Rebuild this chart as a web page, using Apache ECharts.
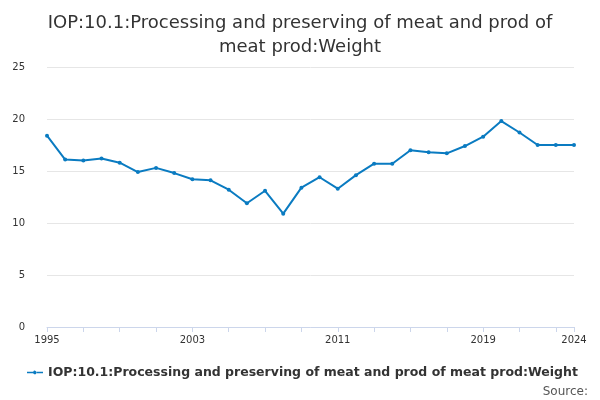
<!DOCTYPE html>
<html><head><meta charset="utf-8">
<script src="https://cdn.jsdelivr.net/npm/echarts@6/dist/echarts.min.js"></script>
<style>html,body{margin:0;padding:0}#main{width:600px;height:400px}</style>
</head><body><div id="main"></div>
<script>
var years = [];
for (var y = 1995; y <= 2024; y++) years.push(String(y));
var seriesName = "IOP:10.1:Processing and preserving of meat and prod of meat prod:Weight";
var values = [18.4, 16.1, 16.0, 16.2, 15.8, 14.9, 15.3, 14.8, 14.2, 14.1,
  13.2, 11.9, 13.1, 10.9, 13.4, 14.4, 13.3, 14.6, 15.7, 15.7,
  17.0, 16.8, 16.7, 17.4, 18.3, 19.8, 18.7, 17.5, 17.5, 17.5];
var last = years.length - 1;
var option = {
  title: {
    text: "IOP:10.1:Processing and preserving of meat and prod of\nmeat prod:Weight",
    left: "center", top: 6,
    textStyle: {fontFamily: "DejaVu Sans", fontSize: 18, fontWeight: "normal", color: "#333", lineHeight: 24}
  },
  legend: {
    bottom: 16, left: 22, icon: "path://M0,4.2h6.2a1.8,1.8 0 1,1 0,1.6h-6.2zM9.8,4.2h6.2v1.6h-6.2z", itemWidth: 16, itemHeight: 10, itemGap: 4,
    textStyle: {fontFamily: "DejaVu Sans", fontSize: 12.5, fontWeight: "bold", color: "#333"},
    data: [seriesName]
  },
  graphic: [{type: "text", right: 12, bottom: 2, style: {text: "Source:", fontFamily: "DejaVu Sans", fontSize: 12, fill: "#555"}}],
  grid: {left: 47, right: 26, top: 67, bottom: 73},
  xAxis: {
    type: "category", data: years, boundaryGap: false,
    axisLine: {lineStyle: {color: "#ccd6eb"}},
    axisTick: {interval: function (i) { return i % 2 === 0 || i === last; }, lineStyle: {color: "#ccd6eb"}},
    axisLabel: {interval: function (i) { return i % 8 === 0 || i === last; }, color: "#333", fontSize: 10, fontFamily: "DejaVu Sans"}
  },
  yAxis: {
    type: "value", min: 0, max: 25, interval: 5,
    splitLine: {lineStyle: {color: "#e6e6e6"}},
    axisLabel: {color: "#333", fontSize: 10, fontFamily: "DejaVu Sans", margin: 22}
  },
  series: [{
    name: seriesName, type: "line", data: values,
    color: "#0a7bc1", symbol: "circle", symbolSize: 4,
    lineStyle: {width: 2}
  }]
};
echarts.init(document.getElementById("main")).setOption(option);
</script></body></html>
